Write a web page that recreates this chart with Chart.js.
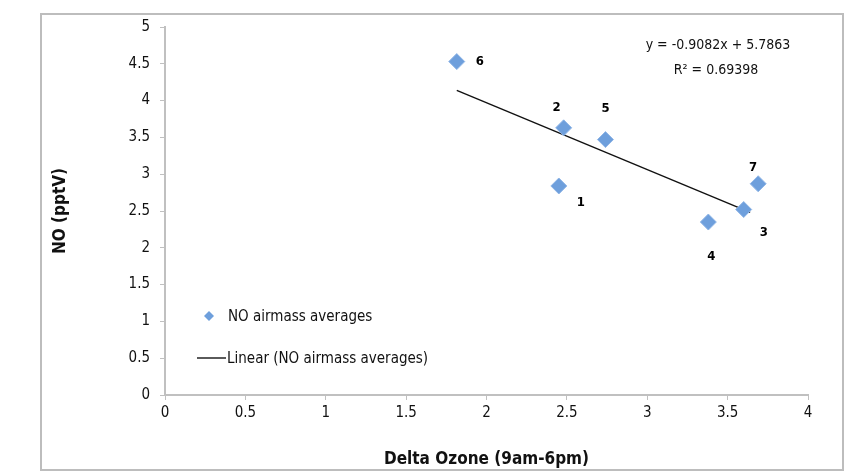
<!DOCTYPE html>
<html>
<head>
<meta charset="utf-8">
<script src="https://cdn.jsdelivr.net/npm/chart.js@4/dist/chart.umd.min.js"></script>
<style>
  html, body { margin: 0; padding: 0; background: #fff; }
  #wrap { width: 849px; height: 475px; }
</style>
</head>
<body>
<div id="wrap"><canvas id="chart" width="849" height="475"></canvas></div>
<script>
// Airmass averages
const AIRMASS_IDS = ["1", "2", "3", "4", "5", "6", "7"];
const DELTA_OZONE = [2.45, 2.48, 3.60, 3.38, 2.74, 1.815, 3.69];
const NO_PPTV = [2.84, 3.63, 2.52, 2.35, 3.47, 4.53, 2.87];

// linear trendline as printed on the chart
const TREND_SLOPE = -0.9082;
const TREND_INTERCEPT = 5.7863;
const TREND_R2 = "0.69398";
const TREND_X = [1.815, 3.64];

const FONT = "'Liberation Sans Narrow', 'DejaVu Sans Condensed', sans-serif";
const AXIS_GRAY = "#c0c0c0";
const MARKER_BLUE = "#6e9fdc";

const points = DELTA_OZONE.map((x, i) => ({ x, y: NO_PPTV[i] }));
const trend = TREND_X.map((x) => ({ x, y: TREND_SLOPE * x + TREND_INTERCEPT }));

// label offsets (px) relative to each marker, matching the source layout
const LABEL_OFFSETS = {
  "1": [22, 17], "2": [-7, -20], "3": [20, 23], "4": [3, 35],
  "5": [0, -31], "6": [23, 0], "7": [-5, -16],
};

const tickText = (v) => String(Number(v.toFixed(1)));

const extras = {
  id: "extras",
  afterDraw(chart) {
    const { ctx, chartArea } = chart;
    const meta = chart.getDatasetMeta(0);
    ctx.save();

    // point labels
    ctx.fillStyle = "#000";
    ctx.font = `bold 13px ${FONT}`;
    ctx.textAlign = "center";
    ctx.textBaseline = "middle";
    meta.data.forEach((el, i) => {
      const id = AIRMASS_IDS[i];
      const [dx, dy] = LABEL_OFFSETS[id];
      ctx.fillText(id, el.x + dx, el.y + dy);
    });

    // equation
    ctx.font = `14px ${FONT}`;
    ctx.fillStyle = "#111";
    const sign = TREND_INTERCEPT >= 0 ? "+" : "-";
    ctx.fillText(`y = ${TREND_SLOPE}x ${sign} ${Math.abs(TREND_INTERCEPT)}`, chartArea.right - 90, chartArea.top + 18);
    ctx.fillText(`R\u00B2 = ${TREND_R2}`, chartArea.right - 92, chartArea.top + 43);

    // legend inside plot
    const lx = chartArea.left + 44;
    const ly1 = chartArea.top + 289;
    const ly2 = chartArea.top + 331;
    ctx.fillStyle = MARKER_BLUE;
    ctx.beginPath();
    ctx.moveTo(lx, ly1 - 5);
    ctx.lineTo(lx + 5, ly1);
    ctx.lineTo(lx, ly1 + 5);
    ctx.lineTo(lx - 5, ly1);
    ctx.closePath();
    ctx.fill();
    ctx.strokeStyle = "#000";
    ctx.lineWidth = 1.3;
    ctx.beginPath();
    ctx.moveTo(lx - 12, ly2);
    ctx.lineTo(lx + 17, ly2);
    ctx.stroke();
    ctx.fillStyle = "#111";
    ctx.font = `15px ${FONT}`;
    ctx.textAlign = "left";
    ctx.fillText("NO airmass averages", lx + 19, ly1 + 1);
    ctx.fillText("Linear (NO airmass averages)", lx + 18, ly2 + 1);

    // outer frame
    ctx.strokeStyle = "#bdbdbd";
    ctx.lineWidth = 2;
    ctx.strokeRect(41, 14, 802, 456);
    ctx.restore();
  },
};

new Chart(document.getElementById("chart"), {
  type: "scatter",
  data: {
    datasets: [
      {
        label: "NO airmass averages",
        data: points,
        pointStyle: "rectRot",
        pointRadius: 8,
        pointHoverRadius: 8,
        backgroundColor: MARKER_BLUE,
        borderColor: "#8fb5e6",
        borderWidth: 1,
      },
      {
        label: "Linear (NO airmass averages)",
        data: trend,
        showLine: true,
        borderColor: "#111",
        borderWidth: 1.4,
        pointRadius: 0,
        fill: false,
      },
    ],
  },
  options: {
    responsive: false,
    animation: false,
    layout: { padding: { left: 40, top: 27, right: 41, bottom: 5 } },
    plugins: {
      legend: { display: false },
      tooltip: { enabled: false },
    },
    scales: {
      x: {
        type: "linear",
        min: 0,
        max: 4,
        ticks: { stepSize: 0.5, color: "#111", font: { family: FONT, size: 15 }, padding: 4, callback: tickText },
        grid: { drawOnChartArea: false, color: AXIS_GRAY, tickLength: 5 },
        border: { color: AXIS_GRAY, width: 2 },
        title: {
          display: true,
          text: "Delta Ozone (9am-6pm)",
          color: "#111",
          font: { family: FONT, size: 17, weight: "bold" },
          padding: { top: 18, bottom: 0 },
        },
        afterFit(scale) { scale.height = 75; },
      },
      y: {
        type: "linear",
        min: 0,
        max: 5,
        ticks: { stepSize: 0.5, color: "#111", font: { family: FONT, size: 15 }, padding: 10, callback: tickText },
        grid: { drawOnChartArea: false, color: AXIS_GRAY, tickLength: 5 },
        border: { color: AXIS_GRAY, width: 2 },
        title: {
          display: true,
          text: "NO (pptV)",
          color: "#111",
          font: { family: FONT, size: 17, weight: "bold" },
          padding: { top: 10, bottom: 0 },
        },
        afterFit(scale) { scale.width = 125; },
      },
    },
  },
  plugins: [extras],
});
</script>
</body>
</html>
